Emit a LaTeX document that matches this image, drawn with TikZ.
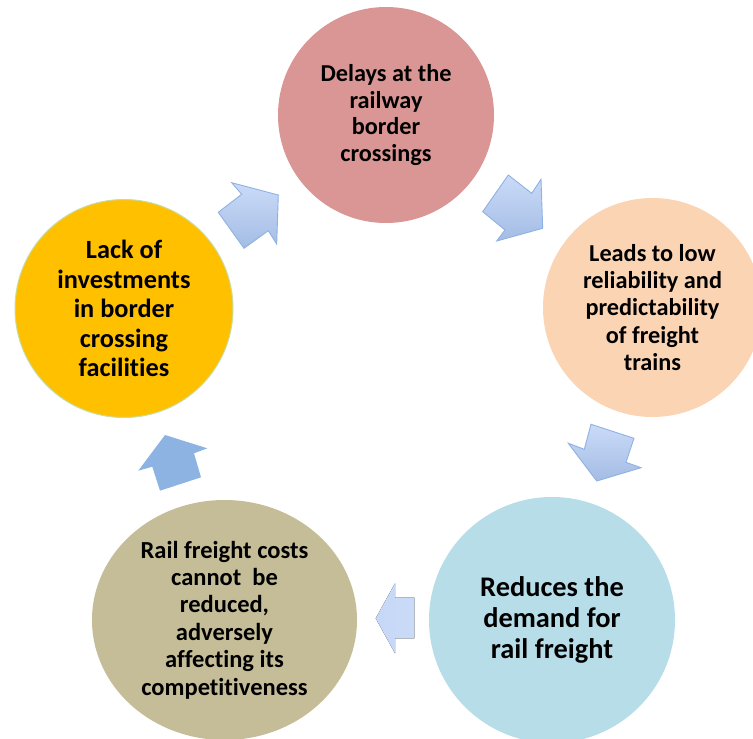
\documentclass[tikz,border=0pt]{standalone}
\usepackage{fontspec}
\setmainfont[Ligatures=NoCommon]{Carlito}
\usetikzlibrary{shapes.geometric}
\definecolor{cTop}{RGB}{217,150,148}
\definecolor{cRight}{RGB}{251,212,180}
\definecolor{cBR}{RGB}{183,221,232}
\definecolor{cBL}{RGB}{196,189,151}
\definecolor{cLeft}{RGB}{255,192,0}
\definecolor{cLeftLine}{RGB}{200,220,160}
\definecolor{arrTop}{RGB}{202,219,248}
\definecolor{arrBot}{RGB}{164,188,228}
\definecolor{arrLine}{RGB}{142,178,227}
\definecolor{arrSolid}{RGB}{141,179,226}
\begin{document}
\begin{tikzpicture}[x=1pt,y=-1pt,
  stage/.style={circle, inner sep=0pt, align=center, font=\bfseries},
  cyclearrow/.style={top color=arrTop, bottom color=arrBot, draw=arrLine, line width=0.9pt, line join=miter},
  solidarrow/.style={fill=arrSolid, draw=none}]
\useasboundingbox (0,0) rectangle (753,739);
\clip (0,0) rectangle (753,739);
\fill[white] (0,0) rectangle (753,739);

% stages
\node[stage, fill=cTop, minimum size=216pt, font=\bfseries\fontsize{24.3}{26.9}\selectfont] (delays) at (386,115)
  {Delays at the\\railway\\border\\crossings};
\node[stage, fill=cRight, minimum size=219pt, font=\bfseries\fontsize{24.3}{27.2}\selectfont] (leads) at (652.5,307.5)
  {Leads to low\\reliability and\\predictability\\of freight\\trains};
\node[stage, fill=cBR, minimum size=246pt, font=\bfseries\fontsize{28.4}{31}\selectfont] (reduces) at (552,620)
  {Reduces the\\demand for\\rail freight};
\node[stage, ellipse, fill=cBL, minimum width=265pt, minimum height=240pt, font=\bfseries\fontsize{24.5}{27.4}\selectfont] (costs) at (224.5,620)
  {Rail freight costs\\cannot\ \ be\\reduced,\\adversely\\affecting its\\competitiveness};
\node[stage, fill=cLeft, draw=cLeftLine, line width=1pt, minimum size=218pt, font=\bfseries\fontsize{26.3}{29.5}\selectfont] (lack) at (124,308.5)
  {Lack of\\investments\\in border\\crossing\\facilities};

% cycle arrows
\draw[cyclearrow] (231.7,182.7) -- (278.3,195) -- (276.7,244) -- (268.3,230.7) -- (244,248.3) -- (218.3,212.3) -- (241.7,194.3) -- cycle;
\draw[cyclearrow] (508.3,175) -- (531.7,193.3) -- (541,179.3) -- (542.7,228.3) -- (496.7,241) -- (505,230) -- (482.7,211.7) -- cycle;
\draw[cyclearrow] (591,424.3) -- (634,438.3) -- (626,462.3) -- (641,467.7) -- (596.7,481) -- (568.3,443.3) -- (584.3,449.3) -- cycle;
\fill[left color=arrTop!90!arrBot, right color=arrTop] (375.7,618.3) -- (395,583.3) -- (395,597.7) -- (414.3,597.7) -- (414.3,638.3) -- (395,638.3) -- (395,653.3) -- cycle;
\fill[solidarrow] (165,435) -- (207.3,448.3) -- (194,453.3) -- (201,477.3) -- (160,490.7) -- (152.3,466.7) -- (138.3,470.7) -- cycle;
\end{tikzpicture}
\end{document}
